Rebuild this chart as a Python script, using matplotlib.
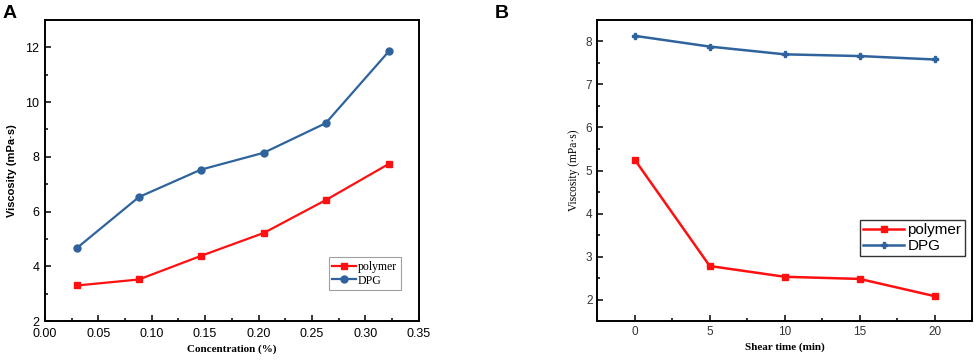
import matplotlib.pyplot as plt
from matplotlib.ticker import AutoMinorLocator

# panel A: viscosity vs concentration
conc = [0.03, 0.088, 0.146, 0.205, 0.263, 0.322]
conc_polymer = [3.30, 3.52, 4.38, 5.22, 6.42, 7.74]
conc_dpg = [4.67, 6.53, 7.53, 8.15, 9.23, 11.85]

# panel B: viscosity vs shear time
shear_time = [0, 5, 10, 15, 20]
shear_polymer = [5.25, 2.78, 2.53, 2.48, 2.08]
shear_dpg = [8.13, 7.88, 7.70, 7.66, 7.58]

RED = "#ff1010"
BLUE = "#2f639e"
SANS = "Liberation Sans"
SERIF = "Liberation Serif"

fig = plt.figure(figsize=(9.76, 3.62), dpi=100)
ax1 = fig.add_axes([0.046, 0.113, 0.383, 0.832])
ax2 = fig.add_axes([0.612, 0.113, 0.384, 0.832])

# --- A ---
ax1.plot(conc, conc_polymer, color=RED, marker="s", ms=4.5, lw=1.6, label="polymer")
ax1.plot(conc, conc_dpg, color=BLUE, marker="o", ms=5, lw=1.6, label="DPG")
ax1.set_xlim(0, 0.35)
ax1.set_ylim(2, 13)
ax1.set_xticks([0, 0.05, 0.10, 0.15, 0.20, 0.25, 0.30, 0.35])
ax1.set_xticklabels(["0.00", "0.05", "0.10", "0.15", "0.20", "0.25", "0.30", "0.35"])
ax1.set_yticks([2, 4, 6, 8, 10, 12])
ax1.set_xlabel("Concentration (%)", family=SERIF, fontweight="bold", fontsize=8, labelpad=3)
ax1.set_ylabel("Viscosity (mPa·s)", family=SANS, fontweight="bold", fontsize=8, labelpad=6)
leg1 = ax1.legend(loc="lower right", bbox_to_anchor=(0.952, 0.103), prop={"family": SERIF, "size": 8.5},
                  fancybox=False, borderpad=0.3, handlelength=2.0, labelspacing=0.15,
                  handletextpad=0.2, borderaxespad=0)
leg1.get_frame().set_edgecolor("#888888")
leg1.get_frame().set_linewidth(0.8)

# --- B ---
ax2.plot(shear_time, shear_polymer, color=RED, marker="s", ms=4.5, lw=1.8, label="polymer")
ax2.plot(shear_time, shear_dpg, color=BLUE, marker="P", ms=4.5, lw=1.8, label="DPG")
ax2.set_xlim(-2.5, 22.5)
ax2.set_ylim(1.5, 8.5)
ax2.set_xticks([0, 5, 10, 15, 20])
ax2.set_yticks([2, 3, 4, 5, 6, 7, 8])
ax2.set_xlabel("Shear time (min)", family=SERIF, fontweight="bold", fontsize=8, labelpad=3)
ax2.set_ylabel("Viscosity (mPa·s)", family=SERIF, fontsize=8.3, labelpad=4)
leg2 = ax2.legend(loc="lower right", bbox_to_anchor=(0.98, 0.216), prop={"family": SANS, "size": 11},
                  fancybox=False, borderpad=0.2, handlelength=2.7, labelspacing=0.1,
                  handletextpad=0.2, borderaxespad=0)
leg2.get_frame().set_edgecolor("black")
leg2.get_frame().set_linewidth(1.0)

for ax in (ax1, ax2):
    for s in ax.spines.values():
        s.set_linewidth(1.4)
    ax.xaxis.set_minor_locator(AutoMinorLocator(2))
    ax.yaxis.set_minor_locator(AutoMinorLocator(2))
    ax.tick_params(which="both", direction="in", top=False, right=False, width=1.1)
    ax.tick_params(which="major", length=4)
    ax.tick_params(which="minor", length=2)

ax1.tick_params(which="major", labelsize=9)
ax1.tick_params(axis="x", which="major", pad=5)
ax1.tick_params(axis="y", which="major", pad=4)
ax2.tick_params(which="major", labelsize=8.5, labelcolor="#333333")
for ax in (ax1, ax2):
    for lab in ax.get_xticklabels() + ax.get_yticklabels():
        lab.set_family(SANS)

fig.text(0.003, 0.985, "A", fontsize=14, fontweight="bold", family=SANS, va="top")
fig.text(0.507, 0.985, "B", fontsize=14, fontweight="bold", family=SANS, va="top")

fig.savefig("out.png", dpi=100)
